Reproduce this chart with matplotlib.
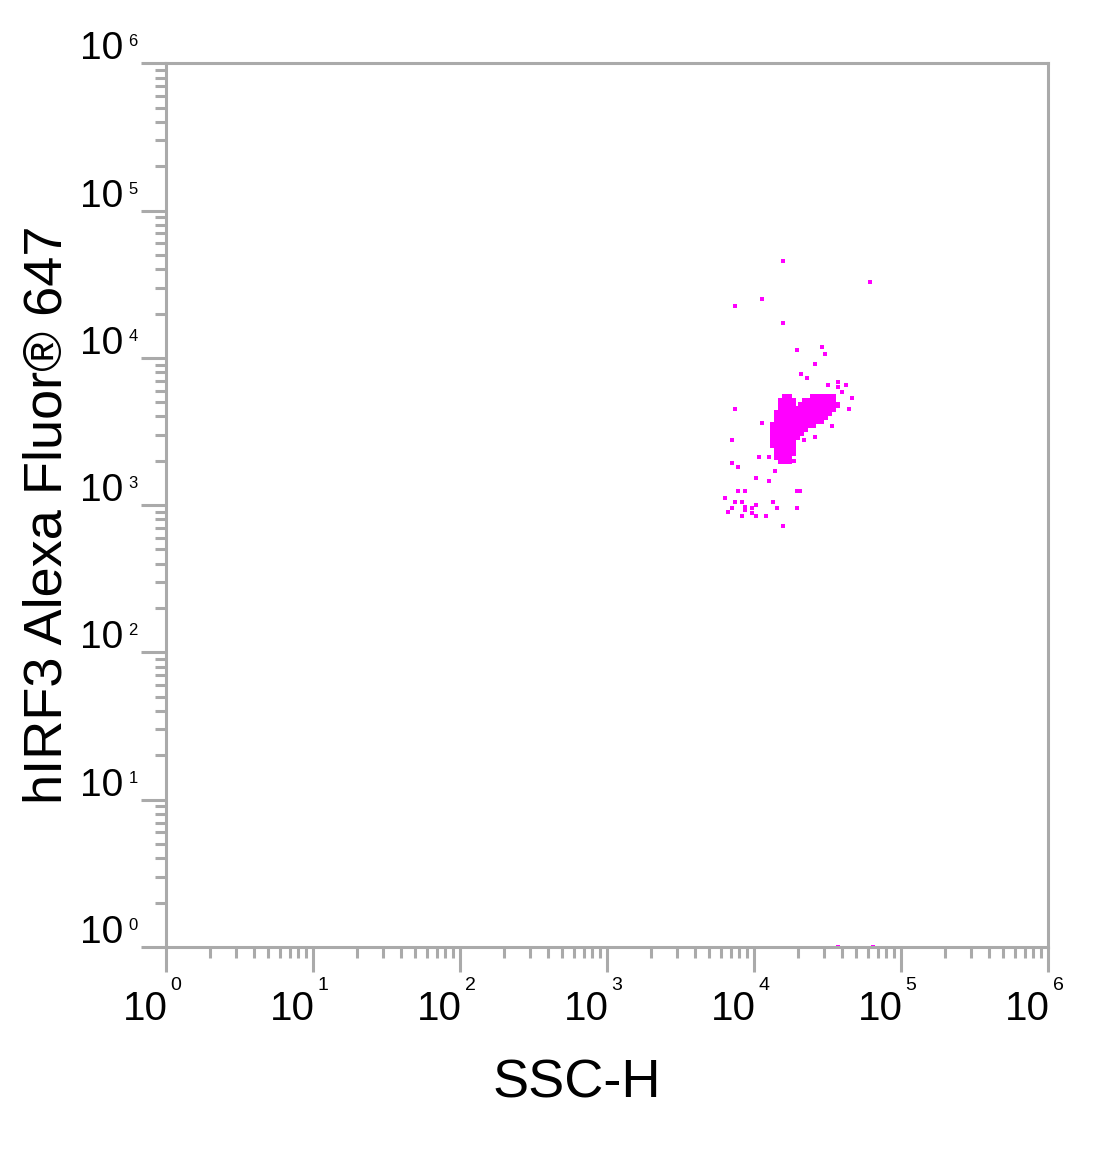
# flow cytometry dot plot: SSC-H vs hIRF3 Alexa Fluor 647
import matplotlib
matplotlib.use("Agg")
import matplotlib.pyplot as plt
import numpy as np

plt.rcParams['font.family'] = ['Liberation Sans', 'DejaVu Sans']

# events, stored as log10 of the channel value
# dense core of the population: one entry per row (irf3 level, ssc levels)
core_irf3_log = [3.734, 3.707, 3.680, 3.652, 3.625, 3.598, 3.571, 3.544, 3.517,
                 3.490, 3.462, 3.435, 3.408, 3.381, 3.354, 3.327, 3.299]
core_ssc_log = [
    [4.214, 4.241, 4.405, 4.432, 4.459, 4.486, 4.513, 4.541],
    [4.187, 4.214, 4.241, 4.269, 4.350, 4.377, 4.405, 4.432, 4.459, 4.486, 4.513, 4.541],
    [4.187, 4.214, 4.241, 4.269, 4.323, 4.350, 4.377, 4.405, 4.432, 4.459, 4.486, 4.513, 4.541, 4.568],
    [4.187, 4.214, 4.241, 4.269, 4.296, 4.323, 4.350, 4.377, 4.405, 4.432, 4.459, 4.486, 4.513, 4.541],
    [4.160, 4.187, 4.214, 4.241, 4.269, 4.296, 4.323, 4.350, 4.377, 4.405, 4.432, 4.459, 4.486, 4.513],
    [4.160, 4.187, 4.214, 4.241, 4.269, 4.296, 4.323, 4.350, 4.377, 4.405, 4.432, 4.459, 4.486],
    [4.160, 4.187, 4.214, 4.241, 4.269, 4.296, 4.323, 4.350, 4.377, 4.405, 4.432, 4.459],
    [4.132, 4.160, 4.187, 4.214, 4.241, 4.269, 4.296, 4.323, 4.350, 4.377, 4.405],
    [4.132, 4.160, 4.187, 4.214, 4.241, 4.269, 4.296, 4.323, 4.350],
    [4.132, 4.160, 4.187, 4.214, 4.241, 4.269, 4.296, 4.323],
    [4.132, 4.160, 4.187, 4.214, 4.241, 4.269, 4.296],
    [4.132, 4.160, 4.187, 4.214, 4.241, 4.269],
    [4.132, 4.160, 4.187, 4.214, 4.241, 4.269],
    [4.160, 4.187, 4.214, 4.241, 4.269],
    [4.160, 4.187, 4.214, 4.241, 4.269],
    [4.160, 4.187, 4.214, 4.241],
    [4.187, 4.214, 4.241],
]

# scattered single events
ssc_log = [4.199, 4.793, 4.060, 3.874, 4.199, 4.296, 4.464, 4.486, 4.414, 4.321,
           4.366, 4.577, 4.505, 4.627, 4.573, 4.602, 4.670, 4.650, 3.874, 4.058,
           4.532, 3.852, 4.414, 4.344, 4.039, 4.107, 4.276, 3.852, 3.897, 4.146,
           4.017, 4.107, 3.897, 3.944, 4.298, 4.316, 3.804, 3.874, 3.922, 4.131,
           3.852, 3.944, 3.944, 3.992, 4.015, 4.158, 4.298, 3.827, 3.922, 3.992,
           4.015, 4.087, 4.199, 4.575, 4.813]
irf3_log = [4.657, 4.517, 4.399, 4.354, 4.238, 4.053, 4.073, 4.026, 3.958, 3.888,
            3.865, 3.838, 3.817, 3.817, 3.800, 3.766, 3.725, 3.652, 3.652, 3.559,
            3.537, 3.442, 3.464, 3.442, 3.329, 3.329, 3.301, 3.284, 3.257, 3.234,
            3.186, 3.164, 3.094, 3.094, 3.094, 3.094, 3.050, 3.023, 3.023, 3.023,
            2.978, 2.989, 2.967, 2.978, 3.001, 2.978, 2.978, 2.951, 2.928, 2.944,
            2.928, 2.928, 2.860, 0.0, 0.0]

decades = [0, 1, 2, 3, 4, 5, 6]

dot_color = '#ff00ff'
axis_gray = '#aaaaaa'

core_x = []
core_y = []
for level, row in zip(core_irf3_log, core_ssc_log):
    for v in row:
        core_x.append(v)
        core_y.append(level)

fig = plt.figure(figsize=(11, 11.66), dpi=100)
ax = fig.add_axes([165.5 / 1100, (1166 - 947) / 1166, (1047.7 - 165.5) / 1100, (947 - 63.3) / 1166])

ax.scatter(10 ** np.array(core_x), 10 ** np.array(core_y), s=14, marker='s',
           color=dot_color, linewidths=0)
ax.scatter(10 ** np.array(ssc_log), 10 ** np.array(irf3_log), s=8, marker='s',
           color=dot_color, linewidths=0)

ax.set_xscale('log')
ax.set_yscale('log')
ax.set_xlim(1, 1e6)
ax.set_ylim(1, 1e6)

for side in ['left', 'right', 'top', 'bottom']:
    ax.spines[side].set_color(axis_gray)
    ax.spines[side].set_linewidth(2.2)

ax.set_xticks([10.0 ** d for d in decades])
ax.set_yticks([10.0 ** d for d in decades])
minors = [m * 10.0 ** d for d in decades[:-1] for m in range(2, 10)]
ax.set_xticks(minors, minor=True)
ax.set_yticks(minors, minor=True)
ax.set_xticklabels([])
ax.set_yticklabels([])
ax.set_xticklabels([], minor=True)
ax.set_yticklabels([], minor=True)
ax.tick_params(which='major', direction='out', length=18, width=2.2, color=axis_gray)
ax.tick_params(which='minor', direction='out', length=8, width=2.2, color=axis_gray)

# decade labels drawn as "10" plus a small exponent
for d in decades:
    v = 10.0 ** d
    ax.annotate('10', xy=(v, 0), xycoords=('data', 'axes fraction'),
                xytext=(2, -73), textcoords='offset pixels',
                ha='right', va='baseline', fontsize=29)
    ax.annotate(str(d), xy=(v, 0), xycoords=('data', 'axes fraction'),
                xytext=(5, -43), textcoords='offset pixels',
                ha='left', va='baseline', fontsize=14)
    ax.annotate('10', xy=(0, v), xycoords=('axes fraction', 'data'),
                xytext=(-42, 4), textcoords='offset pixels',
                ha='right', va='baseline', fontsize=28)
    ax.annotate(str(d), xy=(0, v), xycoords=('axes fraction', 'data'),
                xytext=(-37, 17), textcoords='offset pixels',
                ha='left', va='baseline', fontsize=12)

fig.text(577 / 1100, 1 - 1083 / 1166, 'SSC-H', fontsize=39, ha='center', va='center')
fig.text(48 / 1100, 1 - 515 / 1166, 'hIRF3 Alexa Fluor® 647', fontsize=39,
         rotation=90, ha='center', va='center')

fig.savefig('out.png', dpi=100)
